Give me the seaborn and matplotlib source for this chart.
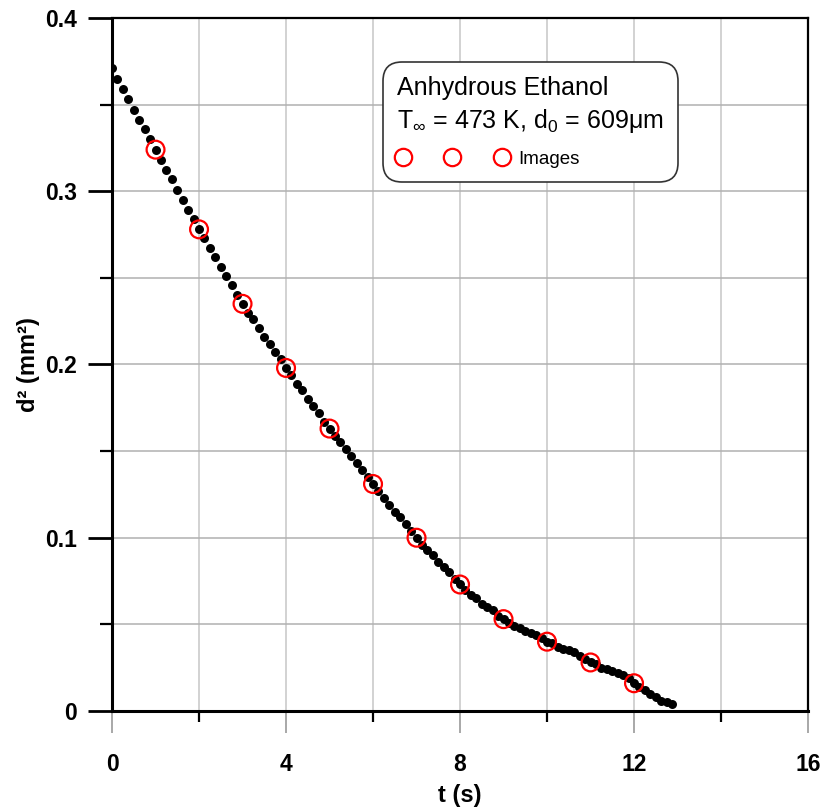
import numpy as np
import pandas as pd
import matplotlib
matplotlib.use("Agg")
import matplotlib.pyplot as plt
import seaborn as sns
from matplotlib.ticker import MultipleLocator, FixedLocator

# d^2 history of one droplet (one row per second)
t_dots = [
    0.000, 0.125, 0.250, 0.375, 0.500, 0.625, 0.750, 0.875,
    1.000, 1.125, 1.250, 1.375, 1.500, 1.625, 1.750, 1.875,
    2.000, 2.125, 2.250, 2.375, 2.500, 2.625, 2.750, 2.875,
    3.000, 3.125, 3.250, 3.375, 3.500, 3.625, 3.750, 3.875,
    4.000, 4.125, 4.250, 4.375, 4.500, 4.625, 4.750, 4.875,
    5.000, 5.125, 5.250, 5.375, 5.500, 5.625, 5.750, 5.875,
    6.000, 6.125, 6.250, 6.375, 6.500, 6.625, 6.750, 6.875,
    7.000, 7.125, 7.250, 7.375, 7.500, 7.625, 7.750, 7.875,
    8.000, 8.125, 8.250, 8.375, 8.500, 8.625, 8.750, 8.875,
    9.000, 9.125, 9.250, 9.375, 9.500, 9.625, 9.750, 9.875,
    10.000, 10.125, 10.250, 10.375, 10.500, 10.625, 10.750, 10.875,
    11.000, 11.125, 11.250, 11.375, 11.500, 11.625, 11.750, 11.875,
    12.000, 12.125, 12.250, 12.375, 12.500, 12.625, 12.750, 12.875,
]
d2_dots = [
    0.371, 0.365, 0.359, 0.353, 0.347, 0.341, 0.336, 0.330,
    0.324, 0.318, 0.312, 0.307, 0.301, 0.295, 0.289, 0.284,
    0.278, 0.273, 0.267, 0.262, 0.256, 0.251, 0.246, 0.240,
    0.235, 0.230, 0.226, 0.221, 0.216, 0.212, 0.207, 0.203,
    0.198, 0.194, 0.189, 0.185, 0.180, 0.176, 0.172, 0.167,
    0.163, 0.159, 0.155, 0.151, 0.147, 0.143, 0.139, 0.135,
    0.131, 0.127, 0.123, 0.119, 0.115, 0.112, 0.108, 0.104,
    0.100, 0.096, 0.093, 0.090, 0.086, 0.083, 0.080, 0.076,
    0.073, 0.070, 0.067, 0.065, 0.062, 0.060, 0.058, 0.055,
    0.053, 0.051, 0.049, 0.048, 0.046, 0.045, 0.044, 0.042,
    0.040, 0.039, 0.037, 0.036, 0.035, 0.034, 0.032, 0.030,
    0.028, 0.027, 0.025, 0.024, 0.023, 0.022, 0.021, 0.019,
    0.016, 0.014, 0.012, 0.010, 0.008, 0.006, 0.005, 0.004,
]

# instants where images were taken
t_images = [1, 2, 3, 4, 5, 6, 7, 8, 9, 10, 11, 12]
d2_images = [0.324, 0.278, 0.235, 0.198, 0.163, 0.131,
             0.100, 0.073, 0.053, 0.040, 0.028, 0.016]

x_major = [0, 4, 8, 12, 16]
x_labels = ["0", "4", "8", "12", "16"]
y_major = [0, 0.1, 0.2, 0.3, 0.4]
y_labels = ["0", "0.1", "0.2", "0.3", "0.4"]

legend_title = "Anhydrous Ethanol\nT$_\\infty$ = 473 K, d$_0$ = 609\u03bcm"
legend_label = "Images"

dots = pd.DataFrame({"t": t_dots, "d2": d2_dots})
imgs = pd.DataFrame({"t": t_images, "d2": d2_images})

sns.set_style("ticks")
plt.rcParams["font.family"] = ["Liberation Sans", "DejaVu Sans"]
plt.rcParams["mathtext.fontset"] = "custom"
plt.rcParams["mathtext.rm"] = "Liberation Sans"
plt.rcParams["mathtext.it"] = "Liberation Sans"
plt.rcParams["text.color"] = "black"
plt.rcParams["axes.labelcolor"] = "black"
plt.rcParams["xtick.labelcolor"] = "black"
plt.rcParams["ytick.labelcolor"] = "black"

tick_font = ["Liberation Sans Narrow", "Liberation Sans", "DejaVu Sans"]

fig = plt.figure(figsize=(8.22, 8.07), dpi=100)
ax = fig.add_axes([0.1363, 0.119, 0.8467, 0.8587])

# black dots: measured d^2
sns.scatterplot(data=dots, x="t", y="d2", ax=ax, color="black",
                s=42, linewidth=0, zorder=3, legend=False)

# red open circles: image instants
sns.scatterplot(data=imgs, x="t", y="d2", ax=ax, marker="o",
                facecolor="none", edgecolor="red", s=165, linewidth=1.6,
                zorder=4, legend=False)

ax.set_xlim(0, 16)
ax.set_ylim(0, 0.4)

# grid: x every 2, y every 0.05
ax.xaxis.set_major_locator(FixedLocator(x_major))
ax.xaxis.set_minor_locator(MultipleLocator(2))
ax.yaxis.set_major_locator(FixedLocator(y_major))
ax.yaxis.set_minor_locator(MultipleLocator(0.05))
ax.grid(which="both", axis="x", color="#cfcfcf", linewidth=1.3)
ax.grid(which="both", axis="y", color="#b0b0b0", linewidth=1.1)
ax.set_axisbelow(True)

ax.set_xticklabels(x_labels)
ax.set_yticklabels(y_labels)

ax.tick_params(axis="x", which="major", direction="out", length=16,
               width=1.2, color="#9a9a9a", pad=14)
ax.tick_params(axis="x", which="minor", direction="out", length=8,
               width=1.6, color="black")
ax.tick_params(axis="y", which="major", direction="out", length=17,
               width=2, color="black", pad=8)
ax.tick_params(axis="y", which="minor", direction="out", length=9,
               width=1.6, color="black")

for lab in ax.get_xticklabels() + ax.get_yticklabels():
    lab.set_family(tick_font)
    lab.set_fontweight("bold")
    lab.set_fontsize(16.5)

ax.set_xlabel("t (s)", fontsize=17, fontweight="bold", family=tick_font,
              labelpad=6)
ax.set_ylabel("d\u00b2 (mm\u00b2)", fontsize=17, fontweight="bold",
              family=tick_font, labelpad=4)

for side in ["left", "bottom"]:
    ax.spines[side].set_linewidth(2.2)
    ax.spines[side].set_color("black")
for side in ["top", "right"]:
    ax.spines[side].set_visible(True)
    ax.spines[side].set_linewidth(1.6)
    ax.spines[side].set_color("black")

# legend box in the upper middle
handle = plt.Line2D([], [], linestyle="none", marker="o", markersize=12.5,
                    markerfacecolor="none", markeredgecolor="red",
                    markeredgewidth=1.6)
leg = ax.legend([handle], [legend_label], title=legend_title,
                title_fontproperties={"size": 18},
                fontsize=13.5, numpoints=3, handlelength=5.9,
                handletextpad=0.55, alignment="left", labelspacing=0.85,
                loc="upper left", bbox_to_anchor=(0.466, 0.923),
                bbox_transform=fig.transFigure, frameon=True,
                fancybox=True, framealpha=1, edgecolor="#333333",
                borderpad=0.75, borderaxespad=0)
leg.get_frame().set_linewidth(1.2)
leg.get_frame().set_boxstyle("round", pad=0, rounding_size=1.0)
leg.get_title().set_linespacing(1.3)
leg.get_title().set_color("black")
for txt in leg.get_texts():
    txt.set_color("black")

fig.savefig("out.png", dpi=100)
